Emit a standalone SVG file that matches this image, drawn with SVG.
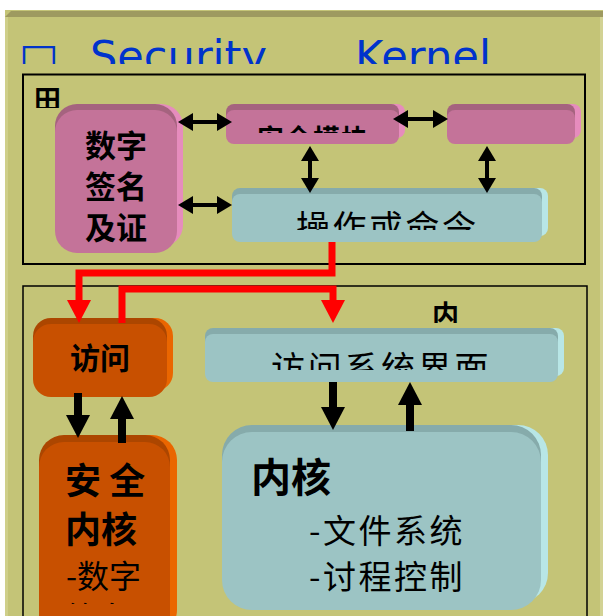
<svg xmlns="http://www.w3.org/2000/svg" width="603" height="616" viewBox="0 0 603 616">
  <defs>
    <style>
      .cjk { font-family: "Noto Sans CJK SC", "Noto Sans", sans-serif; fill: #000; }
      .b { font-weight: bold; }
      .title { font-family: "DejaVu Sans", "Noto Sans", sans-serif; font-size: 42px; fill: #0033CC; }
      .frame { fill: none; stroke: #000; }
      .pk-f { fill: #C47399; } .pk-t { fill: #A5637F; } .pk-r { fill: #E68CBD; }
      .cy-f { fill: #9CC4C4; } .cy-t { fill: #86ABAB; } .cy-r { fill: #B8E6E6; }
      .or-f { fill: #C85000; } .or-t { fill: #AC4600; } .or-r { fill: #EA6600; }
      .thin { stroke: #000; stroke-width: 4; fill: none; marker-start: url(#hd); marker-end: url(#hd); }
      .thick { stroke: #000; stroke-width: 8; fill: none; marker-end: url(#hk); }
      .red { stroke: #FF0000; stroke-width: 7; fill: none; marker-end: url(#hr); stroke-linejoin: miter; }
    </style>
    <marker id="hd" markerUnits="userSpaceOnUse" markerWidth="16" markerHeight="18" refX="0" refY="9" orient="auto-start-reverse" viewBox="0 0 16 18">
      <path d="M0,0 L15,9 L0,18 z" fill="#000"/>
    </marker>
    <marker id="hk" markerUnits="userSpaceOnUse" markerWidth="24" markerHeight="24" refX="0" refY="12" orient="auto" viewBox="0 0 24 24">
      <path d="M0,0 L23,12 L0,24 z" fill="#000"/>
    </marker>
    <marker id="hr" markerUnits="userSpaceOnUse" markerWidth="24" markerHeight="24" refX="0" refY="12" orient="auto" viewBox="0 0 24 24">
      <path d="M0,0 L23,12 L0,24 z" fill="#FF0000"/>
    </marker>
    <clipPath id="clipTitle"><rect x="0" y="0" width="603" height="64"/></clipPath>
    <clipPath id="clipTian"><rect x="0" y="80" width="100" height="28"/></clipPath>
    <clipPath id="clipNei"><rect x="420" y="295" width="60" height="28"/></clipPath>
    <clipPath id="clipMod"><rect x="230" y="110" width="170" height="23"/></clipPath>
    <clipPath id="clipCmd"><rect x="236" y="195" width="300" height="35"/></clipPath>
    <clipPath id="clipIface"><rect x="208" y="335" width="350" height="35"/></clipPath>
    <clipPath id="clipSk"><rect x="40" y="440" width="135" height="164"/></clipPath>
  </defs>

  <!-- background panel with raised top edge -->
  <rect x="5" y="10" width="598" height="606" fill="#C4C477"/>
  <polygon points="5,17 11,11 603,11 603,17" fill="#9E9A60"/>
  <rect x="5" y="17" width="3" height="599" fill="#CFCF8A"/>
  <rect x="600" y="17" width="3" height="599" fill="#D2D294"/>

  <!-- heading -->
  <g id="title" clip-path="url(#clipTitle)">
    <text class="title" x="19" y="73" font-weight="bold" font-size="56">□</text>
    <text class="title" x="90" y="71" textLength="177" lengthAdjust="spacingAndGlyphs">Security</text>
    <text class="title" x="355" y="71" textLength="136" lengthAdjust="spacingAndGlyphs">Kernel</text>
  </g>

  <!-- region frames -->
  <g id="frame-top">
    <rect class="frame" x="23" y="74.5" width="562" height="189.5" stroke-width="2"/>
    <text class="cjk b" x="34" y="110" font-size="27" clip-path="url(#clipTian)">田</text>
  </g>
  <g id="frame-bottom">
    <rect class="frame" x="23" y="286" width="564" height="340" stroke-width="1.5"/>
    <text class="cjk b" x="432" y="325" font-size="27" clip-path="url(#clipNei)">内</text>
  </g>

  <!-- digital signature and certificate -->
  <g id="sig">
    <rect class="pk-r" x="61" y="104" width="122" height="143" rx="22"/>
    <rect class="pk-t" x="55" y="104" width="122" height="143" rx="22"/>
    <rect class="pk-f" x="55" y="110" width="122" height="143" rx="22"/>
    <text class="cjk b" font-size="31" x="85" y="157">数字</text>
    <text class="cjk b" font-size="31" x="85" y="198">签名</text>
    <text class="cjk b" font-size="31" x="85" y="239">及证</text>
  </g>

  <!-- security module -->
  <g id="module">
    <rect class="pk-r" x="232" y="104" width="173" height="34" rx="8"/>
    <rect class="pk-t" x="226" y="104" width="173" height="34" rx="8"/>
    <rect class="pk-f" x="226" y="110" width="173" height="34" rx="8"/>
    <text class="cjk b" font-size="27" x="257" y="149" letter-spacing="1" clip-path="url(#clipMod)">安全模块</text>
  </g>

  <g id="module2">
    <rect class="pk-r" x="453" y="104" width="128" height="34" rx="8"/>
    <rect class="pk-t" x="447" y="104" width="128" height="34" rx="8"/>
    <rect class="pk-f" x="447" y="110" width="128" height="34" rx="8"/>
  </g>

  <!-- operation or command -->
  <g id="command">
    <rect class="cy-r" x="238" y="188" width="310" height="48" rx="8"/>
    <rect class="cy-t" x="232" y="188" width="310" height="48" rx="8"/>
    <rect class="cy-f" x="232" y="194" width="310" height="48" rx="8"/>
    <text class="cjk" font-size="34" x="296" y="240" letter-spacing="2.5" clip-path="url(#clipCmd)">操作或命令</text>
  </g>

  <!-- access -->
  <g id="access">
    <rect class="or-r" x="39" y="318" width="134" height="73" rx="18"/>
    <rect class="or-t" x="33" y="318" width="134" height="73" rx="18"/>
    <rect class="or-f" x="33" y="324" width="134" height="73" rx="18"/>
    <text class="cjk b" font-size="30" x="70" y="369">访问</text>
  </g>

  <!-- access system interface -->
  <g id="iface">
    <rect class="cy-r" x="211" y="328" width="353" height="48" rx="8"/>
    <rect class="cy-t" x="205" y="328" width="353" height="48" rx="8"/>
    <rect class="cy-f" x="205" y="334" width="353" height="48" rx="8"/>
    <text class="cjk" font-size="34" x="271" y="381" letter-spacing="2.7" clip-path="url(#clipIface)">访问系统界面</text>
  </g>

  <!-- security kernel -->
  <g id="seckernel">
    <rect class="or-r" x="46" y="435" width="131" height="200" rx="25"/>
    <rect class="or-t" x="39" y="435" width="131" height="200" rx="25"/>
    <rect class="or-f" x="39" y="442" width="131" height="200" rx="25"/>
    <g clip-path="url(#clipSk)">
      <text class="cjk b" font-size="36" x="65" y="494">安 全</text>
      <text class="cjk b" font-size="36" x="65" y="543">内核</text>
      <text class="cjk" font-size="32" x="66" y="588">-数字</text>
      <text class="cjk" font-size="32" x="66" y="630">签名</text>
    </g>
  </g>

  <!-- kernel -->
  <g id="kernel">
    <rect class="cy-r" x="229" y="425" width="319" height="178" rx="30"/>
    <rect class="cy-t" x="222" y="425" width="319" height="178" rx="30"/>
    <rect class="cy-f" x="222" y="432" width="319" height="178" rx="30"/>
    <text class="cjk b" font-size="40" x="251" y="492">内核</text>
    <text class="cjk" font-size="33" x="309" y="543" letter-spacing="2.5">-文件系统</text>
    <text class="cjk" font-size="33" x="309" y="589" letter-spacing="2.5">-讨程控制</text>
  </g>

  <!-- connectors -->
  <g id="connectors">
    <line class="thin" x1="193" y1="122" x2="217" y2="122"/>
    <line class="thin" x1="193" y1="205" x2="217" y2="205"/>
    <line class="thin" x1="408" y1="119" x2="433" y2="119"/>
    <line class="thin" x1="310" y1="161" x2="310" y2="178"/>
    <line class="thin" x1="487" y1="161" x2="487" y2="178"/>

    <line class="thick" x1="78" y1="393" x2="78" y2="415"/>
    <line class="thick" x1="122" y1="443" x2="122" y2="419"/>
    <line class="thick" x1="333" y1="382" x2="333" y2="407"/>
    <line class="thick" x1="410" y1="431" x2="410" y2="405"/>

    <path class="red" d="M332,242 V273 H79 V300"/>
    <path class="red" d="M122,323 V289 H333 V300"/>
  </g>
</svg>
